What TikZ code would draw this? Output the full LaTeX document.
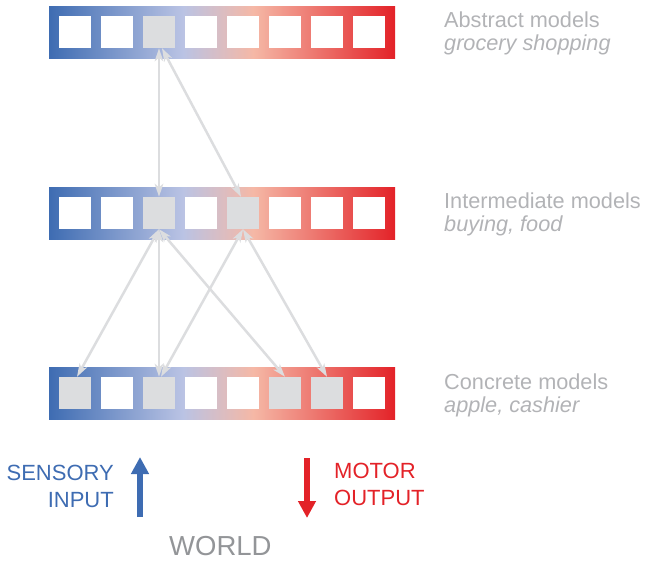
\documentclass[tikz,border=0pt]{standalone}
\usepackage{fontspec}
\setmainfont{Liberation Sans}
\usetikzlibrary{arrows.meta}
\definecolor{bblue}{RGB}{62,108,178}
\definecolor{blav}{RGB}{186,195,228}
\definecolor{bsalm}{RGB}{245,184,166}
\definecolor{bred}{RGB}{227,34,40}
\definecolor{cellgray}{RGB}{220,221,223}
\definecolor{labgray}{RGB}{178,179,182}
\definecolor{worldgray}{RGB}{147,149,152}
\definecolor{sensblue}{RGB}{62,108,178}
\definecolor{motred}{RGB}{227,34,40}
\pgfdeclarehorizontalshading{barshade}{100bp}{color(0bp)=(bblue); color(25bp)=(bblue); color(44.35bp)=(blav); color(54.5bp)=(bsalm); color(75bp)=(bred); color(100bp)=(bred)}
\begin{document}
\begin{tikzpicture}[x=1pt,y=-1pt,
  bar/.style={shading=barshade, minimum width=346pt, minimum height=52pt, inner sep=0pt, draw=none},
  cell/.style={fill=white, minimum size=32pt, inner sep=0pt},
  act/.style={fill=cellgray, minimum size=32pt, inner sep=0pt},
  conn/.style={draw=cellgray, line width=2.5pt, {Stealth[length=13pt,width=8.5pt,inset=3.5pt]}-{Stealth[length=13pt,width=8.5pt,inset=3.5pt]}},
  lab/.style={text=labgray, font=\fontsize{21.7}{24}\selectfont, anchor=base west, inner sep=0pt},
  labit/.style={lab, font=\fontsize{21.7}{24}\selectfont\itshape},
  bigtxt/.style={font=\fontsize{22}{26}\selectfont, inner sep=0pt}]
\useasboundingbox (0,0) rectangle (646,563);
% bars
\node[bar] (topbar) at (222,32) {};
\node[bar] (midbar) at (222,213) {};
\node[bar] (botbar) at (222,393.5) {};
% cells
\foreach \i/\s in {1/cell,2/cell,3/act,4/cell,5/cell,6/cell,7/cell,8/cell}
  \node[\s] (t\i) at ({33+42*\i},32) {};
\foreach \i/\s in {1/cell,2/cell,3/act,4/cell,5/act,6/cell,7/cell,8/cell}
  \node[\s] (m\i) at ({33+42*\i},213) {};
\foreach \i/\s in {1/act,2/cell,3/act,4/cell,5/cell,6/act,7/act,8/cell}
  \node[\s] (b\i) at ({33+42*\i},393) {};
% connectors
\draw[conn] (t3.south) -- (m3.north);
\draw[conn] ([xshift=3pt]t3.south) -- ([xshift=-2pt]m5.north);
\draw[conn] (m3.south) -- ([xshift=2pt]b1.north);
\draw[conn] (m3.south) -- (b3.north);
\draw[conn] (m3.south) -- (b6.north);
\draw[conn] (m5.south) -- ([xshift=2pt]b3.north);
\draw[conn] (m5.south) -- (b7.north);
% labels
\node[lab] (absT) at (444,27) {Abstract models};
\node[labit] (absS) at (444,50) {grocery shopping};
\node[lab] (intT) at (444,208) {Intermediate models};
\node[labit] (intS) at (444,231) {buying, food};
\node[lab] (conT) at (444,389) {Concrete models};
\node[labit] (conS) at (444,412) {apple, cashier};
% sensory / motor
\node[bigtxt, text=sensblue, anchor=base east] (sens1) at (114,480) {SENSORY};
\node[bigtxt, text=sensblue, anchor=base east] (sens2) at (114,507) {INPUT};
\node[bigtxt, text=motred, anchor=base west] (mot1) at (334,478) {MOTOR};
\node[bigtxt, text=motred, anchor=base west] (mot2) at (334,505) {OUTPUT};
\coordinate (sinA) at (140,517);
\coordinate (sinB) at (140,457);
\coordinate (motA) at (307,458);
\coordinate (motB) at (307,518);
\draw[line width=6pt, sensblue, -{Triangle[length=17pt,width=17pt]}] (sinA) -- (sinB);
\draw[line width=6pt, motred, -{Triangle[length=17pt,width=17pt]}] (motA) -- (motB);
\node[font=\fontsize{27.5}{30}\selectfont, text=worldgray, anchor=base west, inner sep=0pt] (world) at (169,555) {WORLD};
\end{tikzpicture}
\end{document}
